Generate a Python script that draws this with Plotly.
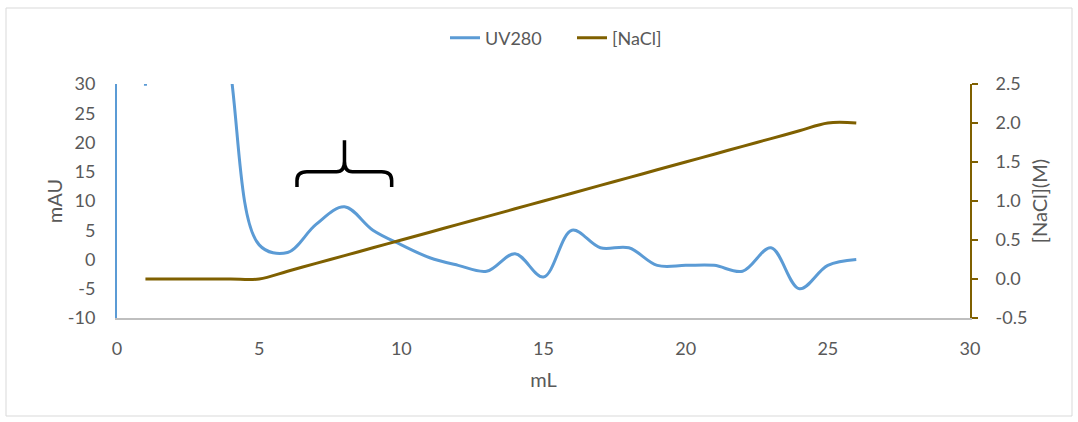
import plotly.graph_objects as go

# ---- data ----
volume_ml = [1, 2, 3, 4, 5, 6, 7, 8, 9, 10, 11, 12, 13, 14, 15, 16, 17, 18, 19, 20, 21, 22, 23, 24, 25, 26]
uv280_mau = [29.7, 100, 80, 32, 2.5, 1.2, 6, 9, 5, 2.5, 0.3, -1, -2, 1, -3, 5, 2, 2, -1, -1, -1, -2, 2, -5, -1, 0]
nacl_m = [0, 0, 0, 0, 0, 0.1, 0.2, 0.3, 0.4, 0.5, 0.6, 0.7, 0.8, 0.9, 1.0, 1.1, 1.2, 1.3, 1.4, 1.5,
          1.6, 1.7, 1.8, 1.9, 2.0, 2.0]
x_ticks = [0, 5, 10, 15, 20, 25, 30]
y_ticks = [-10, -5, 0, 5, 10, 15, 20, 25, 30]
y_tick_labels = ["-10", "-5", "0", "5", "10", "15", "20", "25", "30"]
y2_ticks = [-0.5, 0.0, 0.5, 1.0, 1.5, 2.0, 2.5]
y2_tick_labels = ["-0.5", "0.0", "0.5", "1.0", "1.5", "2.0", "2.5"]

BLUE = "#5B9BD5"
GOLD = "#7F6000"
TXT = "#595959"
FONT = "Lato, 'Open Sans', sans-serif"

fig = go.Figure()
fig.add_trace(go.Scatter(x=volume_ml, y=uv280_mau, name="UV280", mode="lines",
                         line=dict(color=BLUE, width=3, shape="spline"), yaxis="y"))
fig.add_trace(go.Scatter(x=volume_ml, y=nacl_m, name="[NaCl]", mode="lines",
                         line=dict(color=GOLD, width=3, shape="spline"), yaxis="y2"))

L, R, T, B = 117, 108, 84, 104
W, H = 1078, 422
pw, ph = W - L - R, H - T - B

def px(xp):
    return (xp - L) / pw

def py(yp):
    return (H - B - yp) / ph

# brace annotation (in data units of x / left y)
bx0, bx1, bxc = 6.33, 9.66, 8.0
by0, bym, byt = 12.4, 15.0, 20.4
brace = (f"M {bx0},{by0} L {bx0},13.5 Q {bx0},{bym} {bx0+0.35},{bym} "
         f"L {bxc-0.28},{bym} Q {bxc},{bym} {bxc},16.8 L {bxc},{byt} "
         f"M {bxc},16.8 Q {bxc},{bym} {bxc+0.28},{bym} "
         f"L {bx1-0.35},{bym} Q {bx1},{bym} {bx1},13.5 L {bx1},{by0}")

fig.update_layout(
    width=W, height=H,
    margin=dict(l=L, r=R, t=T, b=B, pad=0),
    paper_bgcolor="white", plot_bgcolor="white",
    font=dict(family=FONT, size=18, color=TXT),
    showlegend=True,
    legend=dict(orientation="h", x=px(445), xanchor="left", y=py(38), yanchor="middle",
                entrywidth=82, entrywidthmode="pixels",
                font=dict(size=18, color=TXT), bgcolor="rgba(0,0,0,0)"),
    xaxis=dict(range=[0, 30], tickvals=x_ticks, showgrid=False, zeroline=False,
               showline=True, linecolor="#BFBFBF", linewidth=2, ticks="",
               ticklabelstandoff=13,
               title=dict(text="mL", font=dict(size=20, color=TXT), standoff=15)),
    yaxis=dict(range=[-10, 30], tickvals=y_ticks, ticktext=y_tick_labels,
               showgrid=False, zeroline=False,
               showline=True, linecolor=BLUE, linewidth=2, ticks="",
               ticklabelstandoff=16,
               title=dict(text="mAU", font=dict(size=20, color=TXT), standoff=0)),
    yaxis2=dict(range=[-0.5, 2.5], tickvals=y2_ticks, ticktext=y2_tick_labels, overlaying="y",
                side="right", showgrid=False, zeroline=False,
                showline=True, linecolor=GOLD, linewidth=2,
                ticks="outside", ticklen=6, tickwidth=2, tickcolor=GOLD,
                ticklabelstandoff=14,
                title=dict(text="[NaCl](M)", font=dict(size=20, color=TXT), standoff=7)),
    shapes=[
        dict(type="path", path=brace, xref="x", yref="y",
             line=dict(color="black", width=3.5)),
        dict(type="rect", xref="paper", yref="paper",
             x0=px(6), x1=px(1072), y0=py(416), y1=py(8),
             line=dict(color="#D9D9D9", width=1), fillcolor="rgba(0,0,0,0)", layer="below"),
    ],
)

fig.write_html("out.html", config={"displayModeBar": False},
               post_script="document.body.style.margin='0';")
